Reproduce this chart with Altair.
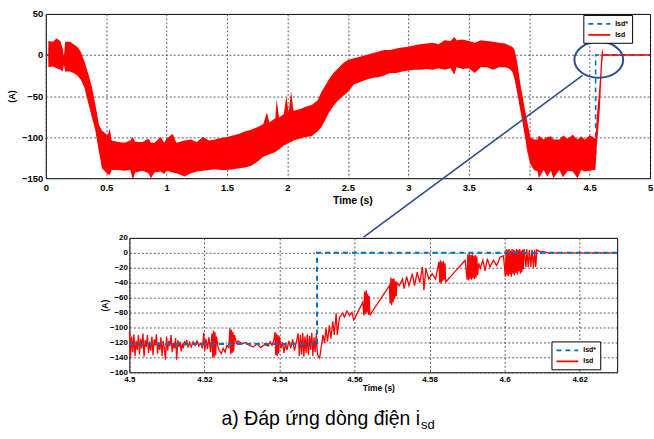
import altair as alt
import pandas as pd

FONT = "Liberation Sans, Arial, sans-serif"
CAP_FONT = "Liberation Sans, Arial, sans-serif"
RED = "#FF0000"
BLUE = "#0072BD"
NAVY = "#2F4E8E"
GRID = "#333333"

series_names = ["Isd*", "Isd"]

# ---------------- top panel: full run (noisy band read as envelope) ----------------
top_t = [0.000, 0.020, 0.022, 0.060, 0.090, 0.120, 0.140, 0.150, 0.160, 0.200,
         0.230, 0.260, 0.290, 0.320, 0.350, 0.380, 0.410, 0.440, 0.465, 0.490,
         0.510, 0.530, 0.545, 0.600, 0.650, 0.700, 0.720, 0.740, 0.800, 0.850,
         0.870, 0.900, 0.950, 0.980, 1.000, 1.050, 1.080, 1.150, 1.200, 1.250,
         1.300, 1.350, 1.400, 1.450, 1.500, 1.550, 1.600, 1.650, 1.700, 1.750,
         1.800, 1.830, 1.850, 1.900, 1.910, 1.930, 1.970, 1.990, 2.010, 2.030,
         2.050, 2.100, 2.150, 2.200, 2.250, 2.280, 2.310, 2.340, 2.380, 2.420,
         2.460, 2.500, 2.550, 2.600, 2.650, 2.700, 2.750, 2.800, 2.850, 2.900,
         2.950, 3.000, 3.050, 3.100, 3.150, 3.200, 3.250, 3.300, 3.350, 3.380,
         3.400, 3.450, 3.500, 3.550, 3.600, 3.650, 3.700, 3.750, 3.800, 3.830,
         3.860, 3.880, 3.900, 3.930, 3.960, 3.985, 4.010, 4.040, 4.070, 4.080,
         4.120, 4.150, 4.180, 4.200, 4.250, 4.280, 4.320, 4.360, 4.400, 4.430,
         4.460, 4.500, 4.530, 4.548, 4.560, 4.575, 4.585, 4.595, 4.603, 4.610,
         4.612]
top_upper = [0, 0, 17, 16, 20, 17, 8, -2, 16, 16,
             13, 10, 4, -8, -22, -38, -60, -85, -92, -95,
             -98, -90, -104, -106, -107, -104, -100, -106, -106, -102,
             -107, -107, -100, -107, -102, -96, -107, -104, -103, -106,
             -100, -104, -103, -101, -100, -98, -96, -93, -91, -88,
             -84, -70, -82, -77, -54, -76, -72, -50, -70, -44,
             -68, -66, -63, -61, -55, -45, -38, -30, -22, -16,
             -10, -6, -4, -2, 0, 2, 4, 6, 6, 8,
             9, 10, 12, 13, 14, 15, 13, 18, 17, 22,
             18, 19, 17, 15, 18, 17, 16, 15, 14, 12,
             10, 6, -8, -38, -62, -82, -100, -103, -103, -98,
             -103, -100, -99, -103, -103, -98, -102, -97, -103, -99,
             -103, -98, -100, -102, -75, -50, -30, -5, 8, 4,
             0]
top_lower = [0, 0, -15, -14, -16, -18, -20, -12, -20, -20,
             -22, -25, -30, -40, -58, -75, -92, -118, -138, -142,
             -145, -146, -140, -140, -141, -140, -152, -143, -141, -144,
             -150, -143, -142, -145, -141, -143, -144, -148, -144, -142,
             -141, -140, -139, -140, -140, -139, -138, -137, -135, -130,
             -124, -122, -121, -118, -117, -115, -110, -109, -107, -106,
             -104, -102, -100, -99, -93, -88, -80, -71, -62, -55,
             -50, -45, -36, -33, -30, -28, -27, -25, -22, -22,
             -20, -19, -18, -18, -17, -18, -16, -18, -16, -24,
             -15, -17, -16, -22, -15, -15, -18, -15, -15, -16,
             -20, -30, -45, -70, -95, -118, -133, -140, -142, -150,
             -140, -148, -141, -150, -140, -149, -141, -142, -150, -140,
             -142, -141, -140, -140, -110, -85, -65, -35, -12, -2,
             0]

# reference current isd* in the top panel
ref_top_t = [0.0, 0.15, 0.25, 0.30, 0.35, 0.40, 0.45, 0.50, 1.00, 1.50, 1.80, 2.00, 2.20,
             2.35, 2.50, 2.75, 3.00, 3.50, 3.85, 3.90, 3.95, 4.00, 4.05, 4.55, 4.55, 5.0]
ref_top_v = [0, 0, -5, -15, -38, -75, -105, -120, -122, -120, -104, -88, -80,
             -50, -25, -12, -5, 0, -3, -25, -70, -110, -120, -120, 0, 0]

# isd where it is a thin line (before the noise starts, after it settles)
isd_line_t = [0.0, 0.02, 4.612, 5.0]
isd_line_v = [0, 0, 0, 0]
isd_line_seg = [1, 1, 2, 2]

# ---------------- bottom panel: zoom 4.50 - 4.63 s ----------------
zoom_t = [
    4.5000, 4.5003, 4.5006, 4.5009, 4.5012, 4.5015, 4.5018, 4.5021, 4.5024, 4.5027,
    4.5030, 4.5033, 4.5036, 4.5039, 4.5042, 4.5045, 4.5048, 4.5051, 4.5054, 4.5057,
    4.5060, 4.5063, 4.5066, 4.5069, 4.5072, 4.5075, 4.5078, 4.5081, 4.5084, 4.5087,
    4.5090, 4.5093, 4.5096, 4.5099, 4.5102, 4.5105, 4.5108, 4.5111, 4.5114, 4.5117,
    4.5120, 4.5123, 4.5126, 4.5129, 4.5132, 4.5135, 4.5138, 4.5141, 4.5144, 4.5147,
    4.5150, 4.5153, 4.5156, 4.5160, 4.5165, 4.5170, 4.5175, 4.5180, 4.5185, 4.5190,
    4.5195, 4.5198, 4.5201, 4.5204, 4.5208, 4.5212, 4.5216, 4.5220, 4.5222, 4.5224,
    4.5226, 4.5228, 4.5230, 4.5232, 4.5236, 4.5240, 4.5245, 4.5250, 4.5255, 4.5260,
    4.5265, 4.5268, 4.5270, 4.5272, 4.5274, 4.5276, 4.5278, 4.5280, 4.5285, 4.5290,
    4.5300, 4.5310, 4.5320, 4.5330, 4.5340, 4.5350, 4.5360, 4.5370, 4.5375, 4.5380,
    4.5385, 4.5388, 4.5390, 4.5392, 4.5394, 4.5396, 4.5398, 4.5400, 4.5404, 4.5408,
    4.5412, 4.5416, 4.5420, 4.5425, 4.5430, 4.5435, 4.5440, 4.5445, 4.5450, 4.5453,
    4.5456, 4.5459, 4.5462, 4.5465, 4.5468, 4.5471, 4.5474, 4.5477, 4.5480, 4.5483,
    4.5486, 4.5489, 4.5492, 4.5495, 4.5498, 4.5501, 4.5507, 4.5516, 4.5520, 4.5524,
    4.5528, 4.5533, 4.5537, 4.5542, 4.5546, 4.5551, 4.5554, 4.5560, 4.5569, 4.5573,
    4.5580, 4.5587, 4.5593, 4.5598, 4.5604, 4.5613, 4.5622, 4.5625, 4.5627, 4.5629,
    4.5631, 4.5633, 4.5635, 4.5637, 4.5639, 4.5641, 4.5644, 4.5693, 4.5695, 4.5697,
    4.5699, 4.5701, 4.5703, 4.5705, 4.5707, 4.5709, 4.5711, 4.5713, 4.5719, 4.5728,
    4.5732, 4.5739, 4.5745, 4.5754, 4.5760, 4.5767, 4.5774, 4.5781, 4.5785, 4.5790,
    4.5798, 4.5807, 4.5816, 4.5825, 4.5827, 4.5829, 4.5831, 4.5833, 4.5835, 4.5837,
    4.5839, 4.5841, 4.5843, 4.5895, 4.5900, 4.5902, 4.5904, 4.5906, 4.5908, 4.5910,
    4.5912, 4.5914, 4.5916, 4.5918, 4.5920, 4.5922, 4.5924, 4.5926, 4.5928, 4.5931,
    4.5935, 4.5942, 4.5948, 4.5954, 4.5961, 4.5970, 4.5979, 4.5988, 4.5997, 4.6002,
    4.6004, 4.6006, 4.6008, 4.6010, 4.6012, 4.6014, 4.6016, 4.6018, 4.6020, 4.6022,
    4.6024, 4.6026, 4.6028, 4.6030, 4.6032, 4.6034, 4.6036, 4.6038, 4.6040, 4.6042,
    4.6044, 4.6046, 4.6048, 4.6050, 4.6052, 4.6057, 4.6059, 4.6063, 4.6066, 4.6070,
    4.6073, 4.6077, 4.6080, 4.6083, 4.6086, 4.6092, 4.6107, 4.6115, 4.6300,
]
zoom_v = [
    -106, -140, -112, -133, -109, -138, -118, -130, -110, -136,
    -115, -128, -108, -139, -117, -126, -110, -134, -119, -131,
    -112, -137, -116, -124, -109, -135, -120, -130, -113, -138,
    -118, -127, -143, -112, -131, -118, -125, -110, -133, -121,
    -128, -114, -143, -117, -126, -119, -132, -122, -128, -118,
    -124, -117, -127, -120, -126, -119, -124, -118, -125, -121,
    -128, -107, -131, -115, -129, -113, -133, -108, -141, -104,
    -139, -106, -137, -112, -126, -131, -135, -128, -133, -124,
    -127, -101, -136, -103, -134, -106, -132, -110, -121, -118,
    -122, -120, -124, -126, -122, -127, -123, -125, -119, -124,
    -117, -106, -137, -108, -138, -110, -135, -112, -128, -120,
    -134, -121, -130, -118, -128, -116, -131, -119, -108, -138,
    -110, -136, -107, -139, -112, -134, -109, -137, -111, -130,
    -107, -138, -113, -133, -108, -136, -141, -110, -121, -101,
    -119, -97, -115, -92, -110, -81, -110, -86, -81, -86,
    -78, -84, -80, -90, -84, -75, -66, -84, -52, -82,
    -50, -80, -55, -83, -58, -84, -81, -44, -68, -33,
    -70, -35, -66, -34, -62, -38, -58, -40, -44, -35,
    -48, -32, -44, -28, -44, -26, -40, -19, -50, -21,
    -35, -28, -35, -12, -40, -10, -41, -12, -38, -11,
    -36, -14, -39, -10, -36, -2, -37, -1, -35, -3,
    -36, -2, -34, -4, -35, -3, -33, -5, -30, -14,
    -21, -10, -24, -8, -19, -10, -17, -6, -4, -32,
    5, -30, 4, -31, 5, -29, 3, -32, 5, -28,
    4, -30, 3, -27, 5, -29, 4, -25, 5, -28,
    3, -26, 4, -22, 5, -19, 5, -19, 4, -19,
    4, -20, 4, -19, 4, 2, 1, 0, 0,
]
zoom_ref_t = [4.5, 4.55, 4.55, 4.63]
zoom_ref_v = [-122, -122, 0, 0]

# annotation: ellipse around the step in the top panel and the link to the zoom
ellipse_t, ellipse_v = [4.576], [-5.8]
link_t, link_v, link_t2, link_v2 = [4.442], [-24.8], [2.630], [-221.8]

caption_main = "a) Đáp ứng dòng điện i"
caption_sub = "sd"

assert len(top_t) == len(top_upper) == len(top_lower)
assert len(zoom_t) == len(zoom_v)

# ---------------- frames ----------------
band_df = pd.DataFrame({"t": top_t, "up": top_upper, "lo": top_lower})
top_lines_df = pd.concat([
    pd.DataFrame({"t": ref_top_t, "v": ref_top_v, "series": "Isd*", "seg": 0}),
    pd.DataFrame({"t": isd_line_t, "v": isd_line_v, "series": "Isd", "seg": isd_line_seg}),
], ignore_index=True)
top_lines_df["i"] = range(len(top_lines_df))
zoom_df = pd.DataFrame({"t": zoom_t, "v": zoom_v, "series": "Isd"})
zoom_df["i"] = range(len(zoom_df))
zref_df = pd.DataFrame({"t": zoom_ref_t, "v": zoom_ref_v, "series": "Isd*"})
zref_df["i"] = range(len(zref_df))
ell_df = pd.DataFrame({"t": ellipse_t, "v": ellipse_v})
link_df = pd.DataFrame({"t": link_t, "v": link_v, "t2": link_t2, "v2": link_v2})

W1, H1 = 607, 165
W2, H2 = 490, 135
SPACER_W = 84


def axis_x(values, fmt, lsize, tsize, lpad, tx, ty):
    return alt.Axis(values=values, format=fmt, title="Time (s)", grid=True,
                    gridColor=GRID, gridDash=[2, 2], gridWidth=0.8, gridOpacity=1,
                    ticks=False, domain=False, labelFlush=False, labelOverlap=False,
                    labelFont=FONT, labelFontWeight="bold", labelFontSize=lsize,
                    labelColor="black", labelPadding=lpad,
                    titleFont=FONT, titleFontWeight="bold", titleFontSize=tsize,
                    titleColor="black", titleX=tx, titleY=ty,
                    titleBaseline="middle", titleAlign="center")


def axis_y(values, lsize, tsize, lpad, tx, ty):
    return alt.Axis(values=values, format="d", title="(A)", grid=True,
                    gridColor=GRID, gridDash=[2, 2], gridWidth=0.8, gridOpacity=1,
                    ticks=False, domain=False, labelFlush=False, labelOverlap=False,
                    labelFont=FONT, labelFontWeight="bold", labelFontSize=lsize,
                    labelColor="black", labelPadding=lpad,
                    titleFont=FONT, titleFontWeight="bold", titleFontSize=tsize,
                    titleColor="black", titleX=tx, titleY=ty,
                    titleBaseline="middle", titleAlign="center")


# long thin legend line in a short row: path drawn from 0 to 22 px for a size-8 symbol
LEG_PATH = "M -1 0 L 4.5 0"


def legend(x, y):
    return alt.Legend(title=None, orient="none", legendX=x, legendY=y,
                      direction="vertical", fillColor="white", strokeColor="black",
                      padding=4, labelFont=FONT, labelFontWeight="bold",
                      labelFontSize=7, labelColor="black", labelOffset=18,
                      symbolType=LEG_PATH, symbolSize=64, symbolStrokeWidth=1.6,
                      rowPadding=2)


cscale = alt.Scale(domain=series_names, range=[BLUE, RED])
dscale = alt.Scale(domain=series_names, range=[[5, 4], [1, 0]])

# ---------------- top chart ----------------
xt = alt.Scale(domain=[0, 5], nice=False, zero=False)
yt = alt.Scale(domain=[-150, 50], nice=False, zero=False)
ax_xt = axis_x([0, 0.5, 1, 1.5, 2, 2.5, 3, 3.5, 4, 4.5, 5], ".1~f", 9.5, 10.5, 4, 308, 22)
ax_yt = axis_y([-150, -100, -50, 0, 50], 9.5, 9, 3, -34, H1 / 2)


def XT(f):
    return alt.X(f, type="quantitative", scale=xt, axis=ax_xt)


def YT(f):
    return alt.Y(f, type="quantitative", scale=yt, axis=ax_yt)


leg_top = legend(540, 1)
top_lines = alt.Chart(top_lines_df).mark_line(strokeWidth=1.6).encode(
    x=XT("t"), y=YT("v"),
    color=alt.Color("series:N", scale=cscale, legend=leg_top),
    strokeDash=alt.StrokeDash("series:N", scale=dscale, legend=leg_top),
    detail="seg:N", order="i:Q")
band = alt.Chart(band_df).mark_area(color=RED, opacity=1).encode(
    x=XT("t"), y=YT("up"), y2="lo:Q")
ELL_PATH = "M -1 0 A 1 0.735 0 1 1 1 0 A 1 0.735 0 1 1 -1 0 Z"
ellipse = alt.Chart(ell_df).mark_point(shape=ELL_PATH, size=2401, filled=False,
                                       color=NAVY, strokeWidth=2, opacity=1).encode(
    x=XT("t"), y=YT("v"))
link = alt.Chart(link_df).mark_rule(color=NAVY, strokeWidth=1.6).encode(
    x=XT("t"), y=YT("v"), x2="t2:Q", y2="v2:Q")
top = alt.layer(top_lines, band, link, ellipse).properties(width=W1, height=H1)

# ---------------- bottom chart ----------------
xb = alt.Scale(domain=[4.5, 4.63], nice=False, zero=False)
yb = alt.Scale(domain=[-160, 20], nice=False, zero=False)
ax_xb = axis_x([4.5, 4.52, 4.54, 4.56, 4.58, 4.6, 4.62], ".2~f", 8, 8.5, 3, 250, 15.5)
ax_yb = axis_y(list(range(-160, 21, 20)), 8, 8.5, 2, -25, H2 / 2)


def XB(f):
    return alt.X(f, type="quantitative", scale=xb, axis=ax_xb)


def YB(f):
    return alt.Y(f, type="quantitative", scale=yb, axis=ax_yb)


# legend of the lower panel is positioned within its row (spacer + panel)
leg_bot = legend(SPACER_W + 424, 104)
zoom_isd = alt.Chart(zoom_df).mark_line(strokeWidth=1.3).encode(
    x=XB("t"), y=YB("v"),
    color=alt.Color("series:N", scale=cscale, legend=leg_bot),
    strokeDash=alt.StrokeDash("series:N", scale=dscale, legend=leg_bot),
    order="i:Q")
zoom_ref = alt.Chart(zref_df).mark_line(strokeWidth=2).encode(
    x=XB("t"), y=YB("v"),
    color=alt.Color("series:N", scale=cscale, legend=leg_bot),
    strokeDash=alt.StrokeDash("series:N", scale=dscale, legend=leg_bot),
    order="i:Q")
cap1 = alt.Chart(pd.DataFrame({"txt": [caption_main]})).mark_text(
    align="right", baseline="alphabetic", font=CAP_FONT, fontSize=19.5, color="black"
).encode(x=alt.value(292), y=alt.value(188), text="txt:N")
cap2 = alt.Chart(pd.DataFrame({"txt": [caption_sub]})).mark_text(
    align="left", baseline="alphabetic", font=CAP_FONT, fontSize=13, color="black"
).encode(x=alt.value(293), y=alt.value(192), text="txt:N")
bottom = alt.layer(zoom_isd, zoom_ref, cap1, cap2).properties(width=W2, height=H2)

spacer = alt.Chart(pd.DataFrame({"a": [0]})).mark_point(opacity=0).encode(
    x=alt.value(0), y=alt.value(0)
).properties(width=SPACER_W, height=H2, view=alt.ViewBackground(stroke="transparent"))

chart = alt.vconcat(
    top,
    alt.hconcat(spacer, bottom, spacing=0, bounds="flush"),
    spacing=60, bounds="flush",
).resolve_scale(color="independent", strokeDash="independent").properties(
    padding={"left": 7, "top": 7, "right": 0, "bottom": 0},
    background="white",
).configure_view(stroke="black", strokeWidth=1)

chart.save("out.html", embed_options={"renderer": "svg", "actions": False})
